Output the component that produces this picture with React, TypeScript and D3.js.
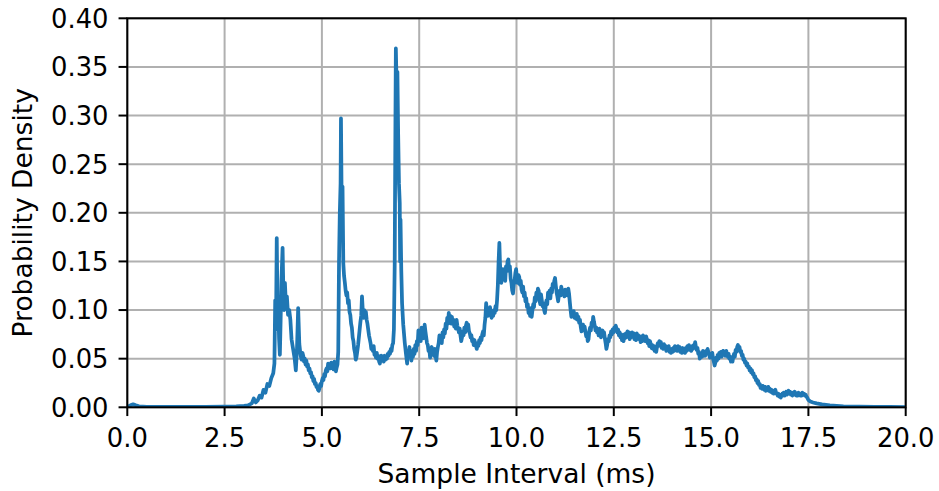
import React from "react";
import * as d3 from "d3";

const xTicks = [0, 2.5, 5, 7.5, 10, 12.5, 15, 17.5, 20];
const yTicks = [0, 0.05, 0.1, 0.15, 0.2, 0.25, 0.3, 0.35, 0.4];
const xLabel = "Sample Interval (ms)";
const yLabel = "Probability Density";

// [sample interval (ms), probability density] — onset and first peaks
const samplesEarly: [number, number][] = [
  [0.0, 0.0005], [0.08, 0.002], [0.15, 0.003], [0.22, 0.002], [0.3, 0.001], [0.5, 0.0005], [1.0, 0.0004],
  [1.5, 0.0004], [2.0, 0.0005], [2.5, 0.0008], [2.8, 0.001], [3.0, 0.0015], [3.1, 0.002], [3.2, 0.004],
  [3.25, 0.009], [3.3, 0.005], [3.35, 0.007], [3.4, 0.012], [3.45, 0.010], [3.5, 0.018], [3.55, 0.015],
  [3.6, 0.024], [3.65, 0.022], [3.7, 0.030], [3.75, 0.035], [3.78, 0.045], [3.80, 0.11], [3.82, 0.08],
  [3.84, 0.174], [3.86, 0.10], [3.88, 0.105], [3.90, 0.07], [3.92, 0.054], [3.94, 0.09], [3.96, 0.13],
  [3.99, 0.164], [4.01, 0.12], [4.03, 0.10], [4.05, 0.128], [4.07, 0.11], [4.10, 0.114], [4.13, 0.095],
  [4.16, 0.10], [4.19, 0.09], [4.22, 0.07], [4.26, 0.06], [4.30, 0.05], [4.33, 0.038], [4.36, 0.06],
  [4.39, 0.102], [4.42, 0.065], [4.44, 0.058], [4.46, 0.052], [4.48, 0.049], [4.50, 0.056], [4.52, 0.053],
  [4.54, 0.047], [4.56, 0.05], [4.58, 0.044], [4.60, 0.048], [4.62, 0.042], [4.64, 0.044], [4.66, 0.038],
  [4.68, 0.04], [4.70, 0.035], [4.72, 0.036], [4.74, 0.031], [4.76, 0.032], [4.78, 0.027], [4.80, 0.029],
  [4.82, 0.024], [4.84, 0.025], [4.86, 0.021], [4.88, 0.022], [4.90, 0.018], [4.92, 0.017], [4.94, 0.02],
  [4.96, 0.024], [4.98, 0.022], [5.00, 0.027], [5.02, 0.03], [5.04, 0.028], [5.06, 0.034], [5.08, 0.032],
  [5.10, 0.038], [5.12, 0.04], [5.14, 0.037], [5.16, 0.045], [5.18, 0.041], [5.20, 0.044], [5.22, 0.04],
  [5.24, 0.046], [5.26, 0.042], [5.28, 0.044], [5.30, 0.039], [5.32, 0.047], [5.34, 0.043], [5.36, 0.037],
  [5.38, 0.041], [5.40, 0.044], [5.42, 0.057], [5.44, 0.15], [5.46, 0.20], [5.48, 0.23], [5.49, 0.297],
  [5.51, 0.20], [5.53, 0.227], [5.55, 0.148], [5.57, 0.135], [5.59, 0.128], [5.61, 0.12], [5.63, 0.115],
  [5.65, 0.118], [5.67, 0.107], [5.69, 0.11], [5.71, 0.098], [5.73, 0.095], [5.75, 0.086], [5.77, 0.082],
  [5.79, 0.072], [5.81, 0.068], [5.83, 0.06], [5.85, 0.056], [5.87, 0.049], [5.89, 0.052], [5.91, 0.058],
  [5.93, 0.064], [5.95, 0.072], [5.97, 0.08], [5.99, 0.088], [6.01, 0.094], [6.03, 0.114], [6.05, 0.1],
  [6.07, 0.092], [6.09, 0.1], [6.11, 0.096], [6.13, 0.098], [6.15, 0.09], [6.17, 0.086], [6.19, 0.08],
  [6.21, 0.074], [6.23, 0.07], [6.25, 0.066], [6.27, 0.06], [6.29, 0.062], [6.31, 0.058], [6.33, 0.063],
  [6.35, 0.054], [6.37, 0.056], [6.39, 0.051], [6.41, 0.056], [6.43, 0.05], [6.45, 0.053], [6.47, 0.047],
  [6.49, 0.045], [6.51, 0.05], [6.53, 0.053], [6.55, 0.048], [6.57, 0.051], [6.59, 0.047], [6.61, 0.053],
  [6.63, 0.049], [6.65, 0.052], [6.67, 0.05], [6.69, 0.055], [6.71, 0.053], [6.73, 0.057], [6.75, 0.055],
  [6.77, 0.06], [6.79, 0.058], [6.81, 0.064], [6.83, 0.066], [6.85, 0.08], [6.87, 0.145], [6.89, 0.30],
  [6.90, 0.369], [6.92, 0.33], [6.94, 0.345], [6.96, 0.28], [6.98, 0.23], [7.00, 0.21], [7.01, 0.15],
  [7.02, 0.193], [7.04, 0.14], [7.06, 0.107], [7.09, 0.085], [7.13, 0.066], [7.16, 0.055],
];

// middle section
const samplesMid: [number, number][] = [
  [7.19, 0.045], [7.21, 0.058], [7.23, 0.052], [7.25, 0.062], [7.26, 0.055], [7.28, 0.058], [7.30, 0.048],
  [7.32, 0.057], [7.34, 0.052], [7.36, 0.06], [7.38, 0.055], [7.40, 0.064], [7.42, 0.058], [7.44, 0.068],
  [7.46, 0.064], [7.48, 0.079], [7.50, 0.07], [7.52, 0.076], [7.54, 0.068], [7.56, 0.082], [7.58, 0.074],
  [7.60, 0.08], [7.62, 0.071], [7.64, 0.085], [7.66, 0.078], [7.68, 0.072], [7.70, 0.066], [7.72, 0.064],
  [7.74, 0.058], [7.76, 0.06], [7.78, 0.051], [7.80, 0.058], [7.82, 0.062], [7.84, 0.055], [7.86, 0.06],
  [7.88, 0.053], [7.90, 0.06], [7.92, 0.054], [7.94, 0.048], [7.96, 0.057], [7.98, 0.062], [8.00, 0.066],
  [8.02, 0.074], [8.04, 0.068], [8.06, 0.072], [8.08, 0.066], [8.10, 0.077], [8.12, 0.072], [8.14, 0.08],
  [8.16, 0.076], [8.18, 0.086], [8.20, 0.081], [8.22, 0.092], [8.24, 0.086], [8.26, 0.097], [8.28, 0.09],
  [8.30, 0.094], [8.32, 0.086], [8.34, 0.093], [8.36, 0.087], [8.38, 0.09], [8.40, 0.083], [8.42, 0.087],
  [8.44, 0.081], [8.46, 0.09], [8.48, 0.084], [8.50, 0.081], [8.52, 0.077], [8.54, 0.081], [8.56, 0.074],
  [8.58, 0.068], [8.60, 0.072], [8.62, 0.078], [8.64, 0.074], [8.66, 0.082], [8.68, 0.077], [8.70, 0.084],
  [8.72, 0.087], [8.74, 0.082], [8.76, 0.085], [8.78, 0.078], [8.80, 0.076], [8.82, 0.072], [8.84, 0.074],
  [8.86, 0.068], [8.88, 0.07], [8.90, 0.064], [8.92, 0.069], [8.94, 0.065], [8.96, 0.063], [8.98, 0.06],
  [9.00, 0.066], [9.02, 0.063], [9.04, 0.069], [9.06, 0.066], [9.08, 0.072], [9.10, 0.069], [9.12, 0.075],
  [9.14, 0.078], [9.16, 0.074], [9.18, 0.085], [9.20, 0.092], [9.22, 0.107], [9.24, 0.098], [9.26, 0.094],
  [9.28, 0.1], [9.30, 0.096], [9.32, 0.103], [9.34, 0.095], [9.36, 0.092], [9.38, 0.098], [9.40, 0.094],
  [9.42, 0.1], [9.44, 0.097], [9.46, 0.104], [9.48, 0.1], [9.50, 0.11], [9.52, 0.125], [9.54, 0.15],
  [9.56, 0.169], [9.575, 0.148], [9.59, 0.138], [9.61, 0.128], [9.63, 0.136], [9.65, 0.142], [9.67, 0.132],
  [9.69, 0.138], [9.71, 0.13], [9.73, 0.145], [9.75, 0.14], [9.77, 0.15], [9.79, 0.152], [9.81, 0.14],
  [9.83, 0.145], [9.85, 0.132], [9.87, 0.128], [9.89, 0.12], [9.91, 0.117], [9.93, 0.126], [9.95, 0.13],
  [9.97, 0.138], [9.99, 0.142], [10.01, 0.132], [10.03, 0.128], [10.05, 0.136], [10.07, 0.134],
  [10.09, 0.126], [10.11, 0.13], [10.13, 0.121], [10.15, 0.118], [10.17, 0.124], [10.19, 0.114],
  [10.21, 0.118], [10.23, 0.109], [10.25, 0.112], [10.27, 0.103], [10.29, 0.106], [10.31, 0.097],
  [10.33, 0.1], [10.35, 0.094], [10.37, 0.102], [10.39, 0.093], [10.41, 0.1], [10.43, 0.106],
  [10.45, 0.103], [10.47, 0.113], [10.49, 0.109], [10.51, 0.118], [10.53, 0.114], [10.55, 0.122],
  [10.57, 0.12], [10.59, 0.11], [10.61, 0.106], [10.63, 0.116], [10.65, 0.11], [10.67, 0.104],
  [10.69, 0.107], [10.71, 0.1], [10.73, 0.097], [10.75, 0.104], [10.77, 0.11], [10.79, 0.106],
  [10.81, 0.118], [10.83, 0.114], [10.85, 0.12], [10.87, 0.112], [10.89, 0.122], [10.91, 0.118],
  [10.93, 0.127], [10.95, 0.124], [10.97, 0.13], [10.99, 0.133], [11.01, 0.125], [11.03, 0.118],
  [11.05, 0.114], [11.07, 0.109], [11.09, 0.116], [11.11, 0.12], [11.13, 0.115], [11.15, 0.124],
  [11.17, 0.12], [11.19, 0.116], [11.21, 0.118], [11.23, 0.114], [11.25, 0.121], [11.27, 0.116],
  [11.29, 0.119], [11.31, 0.115], [11.33, 0.122], [11.35, 0.117], [11.37, 0.108], [11.39, 0.1],
  [11.41, 0.093], [11.43, 0.098], [11.45, 0.094], [11.47, 0.099], [11.49, 0.092], [11.51, 0.096],
  [11.53, 0.091], [11.55, 0.096], [11.57, 0.09], [11.59, 0.093], [11.61, 0.087], [11.63, 0.09],
  [11.65, 0.083], [11.67, 0.078], [11.69, 0.082], [11.71, 0.085], [11.73, 0.079], [11.75, 0.083],
  [11.77, 0.078], [11.79, 0.073], [11.81, 0.076], [11.83, 0.068], [11.85, 0.07], [11.87, 0.078],
  [11.89, 0.082], [11.91, 0.079], [11.93, 0.087], [11.95, 0.084], [11.97, 0.093], [11.99, 0.088],
];

// plateau and tail
const samplesLate: [number, number][] = [
  [12.01, 0.084], [12.03, 0.079], [12.05, 0.082], [12.07, 0.077], [12.09, 0.079], [12.11, 0.074],
  [12.13, 0.081], [12.15, 0.077], [12.17, 0.072], [12.19, 0.076], [12.21, 0.079], [12.23, 0.074],
  [12.25, 0.077], [12.27, 0.071], [12.29, 0.066], [12.31, 0.06], [12.33, 0.064], [12.35, 0.07],
  [12.37, 0.068], [12.39, 0.074], [12.41, 0.072], [12.43, 0.078], [12.45, 0.075], [12.47, 0.08],
  [12.49, 0.077], [12.51, 0.082], [12.53, 0.079], [12.55, 0.084], [12.57, 0.081], [12.59, 0.077],
  [12.61, 0.08], [12.63, 0.074], [12.65, 0.077], [12.67, 0.072], [12.69, 0.075], [12.71, 0.069],
  [12.73, 0.072], [12.75, 0.068], [12.77, 0.075], [12.79, 0.071], [12.81, 0.076], [12.83, 0.072],
  [12.85, 0.078], [12.87, 0.074], [12.89, 0.077], [12.91, 0.07], [12.93, 0.075], [12.95, 0.072],
  [12.97, 0.077], [12.99, 0.073], [13.01, 0.076], [13.03, 0.07], [13.05, 0.073], [13.07, 0.069],
  [13.09, 0.076], [13.11, 0.072], [13.13, 0.074], [13.15, 0.07], [13.17, 0.073], [13.19, 0.067],
  [13.21, 0.071], [13.23, 0.068], [13.25, 0.074], [13.27, 0.069], [13.29, 0.072], [13.31, 0.068],
  [13.33, 0.073], [13.35, 0.07], [13.37, 0.066], [13.39, 0.069], [13.41, 0.063], [13.43, 0.068],
  [13.45, 0.065], [13.47, 0.061], [13.49, 0.064], [13.51, 0.06], [13.53, 0.063], [13.55, 0.058],
  [13.57, 0.061], [13.59, 0.057], [13.61, 0.062], [13.63, 0.066], [13.65, 0.063], [13.67, 0.068],
  [13.69, 0.064], [13.71, 0.067], [13.73, 0.061], [13.75, 0.064], [13.77, 0.06], [13.79, 0.065],
  [13.81, 0.061], [13.83, 0.063], [13.85, 0.058], [13.87, 0.062], [13.89, 0.059], [13.91, 0.063],
  [13.93, 0.057], [13.95, 0.06], [13.97, 0.056], [13.99, 0.06], [14.01, 0.057], [14.03, 0.061],
  [14.05, 0.058], [14.07, 0.063], [14.09, 0.059], [14.11, 0.062], [14.13, 0.058], [14.15, 0.063],
  [14.17, 0.06], [14.19, 0.062], [14.21, 0.057], [14.23, 0.06], [14.25, 0.056], [14.27, 0.061],
  [14.29, 0.058], [14.31, 0.06], [14.33, 0.056], [14.35, 0.061], [14.37, 0.058], [14.39, 0.063],
  [14.41, 0.06], [14.43, 0.064], [14.45, 0.059], [14.47, 0.062], [14.49, 0.058], [14.51, 0.063],
  [14.53, 0.06], [14.55, 0.064], [14.57, 0.062], [14.59, 0.067], [14.61, 0.062], [14.63, 0.059],
  [14.65, 0.061], [14.67, 0.055], [14.69, 0.057], [14.71, 0.05], [14.73, 0.052], [14.75, 0.055],
  [14.77, 0.052], [14.79, 0.058], [14.81, 0.054], [14.83, 0.057], [14.85, 0.053], [14.87, 0.058],
  [14.89, 0.055], [14.91, 0.06], [14.93, 0.057], [14.95, 0.054], [14.97, 0.051], [14.99, 0.055],
  [15.01, 0.052], [15.03, 0.056], [15.05, 0.05], [15.07, 0.047], [15.09, 0.043], [15.11, 0.046],
  [15.13, 0.051], [15.15, 0.048], [15.17, 0.054], [15.19, 0.05], [15.21, 0.056], [15.23, 0.053],
  [15.25, 0.057], [15.27, 0.052], [15.29, 0.055], [15.31, 0.058], [15.33, 0.054], [15.35, 0.057],
  [15.37, 0.053], [15.39, 0.058], [15.41, 0.054], [15.43, 0.052], [15.45, 0.055], [15.47, 0.05],
  [15.49, 0.052], [15.51, 0.047], [15.53, 0.05], [15.55, 0.047], [15.57, 0.052], [15.59, 0.055],
  [15.61, 0.052], [15.63, 0.059], [15.65, 0.057], [15.67, 0.062], [15.69, 0.064], [15.71, 0.06],
  [15.73, 0.062], [15.75, 0.057], [15.77, 0.058], [15.79, 0.053], [15.81, 0.054], [15.83, 0.049],
  [15.85, 0.05], [15.87, 0.046], [15.89, 0.047], [15.91, 0.043], [15.93, 0.045], [15.95, 0.041],
  [15.97, 0.042], [15.99, 0.038], [16.01, 0.04], [16.03, 0.036], [16.05, 0.038], [16.07, 0.034],
  [16.09, 0.035], [16.11, 0.031], [16.13, 0.032], [16.15, 0.028], [16.17, 0.029], [16.19, 0.025],
  [16.21, 0.027], [16.23, 0.023], [16.25, 0.024], [16.27, 0.02], [16.29, 0.022], [16.31, 0.019],
  [16.33, 0.022], [16.35, 0.02], [16.37, 0.018], [16.39, 0.021], [16.41, 0.017], [16.43, 0.02],
  [16.45, 0.018], [16.47, 0.021], [16.49, 0.017], [16.51, 0.019], [16.53, 0.016], [16.55, 0.018],
  [16.57, 0.015], [16.59, 0.017], [16.61, 0.014], [16.63, 0.017], [16.65, 0.018], [16.67, 0.015],
  [16.69, 0.014], [16.71, 0.012], [16.73, 0.014], [16.75, 0.011], [16.77, 0.013], [16.79, 0.01],
  [16.81, 0.012], [16.83, 0.014], [16.85, 0.012], [16.87, 0.015], [16.89, 0.012], [16.91, 0.014],
  [16.93, 0.016], [16.95, 0.013], [16.97, 0.015], [16.99, 0.017], [17.01, 0.014], [17.03, 0.016],
  [17.05, 0.013], [17.07, 0.015], [17.09, 0.012], [17.11, 0.015], [17.13, 0.013], [17.15, 0.016],
  [17.17, 0.013], [17.19, 0.012], [17.21, 0.014], [17.23, 0.012], [17.25, 0.015], [17.27, 0.013],
  [17.29, 0.012], [17.31, 0.014], [17.33, 0.012], [17.35, 0.015], [17.37, 0.013], [17.39, 0.014],
  [17.41, 0.012], [17.43, 0.013], [17.45, 0.011], [17.47, 0.01], [17.50, 0.0075], [17.55, 0.006],
  [17.62, 0.005], [17.71, 0.004], [17.85, 0.003], [18.05, 0.002], [18.4, 0.001], [18.8, 0.0007],
  [19.2, 0.0005], [19.6, 0.0004], [20.0, 0.0003],
];

const W = 939;
const H = 491;
const M = { left: 127.3, right: 905.7, top: 18.3, bottom: 407.3 };
const FONT = "'DejaVu Sans', sans-serif";
const TICK_FS = 25.8;
const LABEL_FS = 26.5;

export default function App() {
  const samples = [...samplesEarly, ...samplesMid, ...samplesLate];
  const x = d3.scaleLinear().domain([0, 20]).range([M.left, M.right]);
  const y = d3.scaleLinear().domain([0, 0.4]).range([M.bottom, M.top]);
  const line = d3
    .line<[number, number]>()
    .x((d) => x(d[0]))
    .y((d) => y(d[1]));
  const tickLen = 8.75;

  return (
    <svg
      width={W}
      height={H}
      style={{ position: "absolute", left: 0, top: 0, background: "#fff" }}
      fontFamily={FONT}
    >
      <rect x={0} y={0} width={W} height={H} fill="#fff" />
      <defs>
        <clipPath id="plot">
          <rect x={M.left} y={M.top} width={M.right - M.left} height={M.bottom - M.top} />
        </clipPath>
      </defs>
      {xTicks.map((t) => (
        <line key={"gx" + t} x1={x(t)} x2={x(t)} y1={M.top} y2={M.bottom} stroke="#b0b0b0" strokeWidth={2} />
      ))}
      {yTicks.map((t) => (
        <line key={"gy" + t} x1={M.left} x2={M.right} y1={y(t)} y2={y(t)} stroke="#b0b0b0" strokeWidth={2} />
      ))}
      <path
        d={line(samples) || ""}
        fill="none"
        stroke="#1f77b4"
        strokeWidth={3.75}
        strokeLinejoin="round"
        strokeLinecap="square"
        clipPath="url(#plot)"
      />
      <rect
        x={M.left}
        y={M.top}
        width={M.right - M.left}
        height={M.bottom - M.top}
        fill="none"
        stroke="#000"
        strokeWidth={2}
      />
      {xTicks.map((t) => (
        <g key={"xt" + t}>
          <line x1={x(t)} x2={x(t)} y1={M.bottom} y2={M.bottom + tickLen} stroke="#000" strokeWidth={2} />
          <text x={x(t)} y={446.8} textAnchor="middle" fontSize={TICK_FS} fill="#000">
            {t.toFixed(1)}
          </text>
        </g>
      ))}
      {yTicks.map((t) => (
        <g key={"yt" + t}>
          <line x1={M.left - tickLen} x2={M.left} y1={y(t)} y2={y(t)} stroke="#000" strokeWidth={2} />
          <text x={108.5} y={y(t) + 9.4} textAnchor="end" fontSize={TICK_FS} fill="#000">
            {t.toFixed(2)}
          </text>
        </g>
      ))}
      <text x={(M.left + M.right) / 2} y={483} textAnchor="middle" fontSize={LABEL_FS} fill="#000">
        {xLabel}
      </text>
      <text
        transform={`translate(32,${(M.top + M.bottom) / 2}) rotate(-90)`}
        textAnchor="middle"
        fontSize={LABEL_FS}
        fill="#000"
      >
        {yLabel}
      </text>
    </svg>
  );
}
